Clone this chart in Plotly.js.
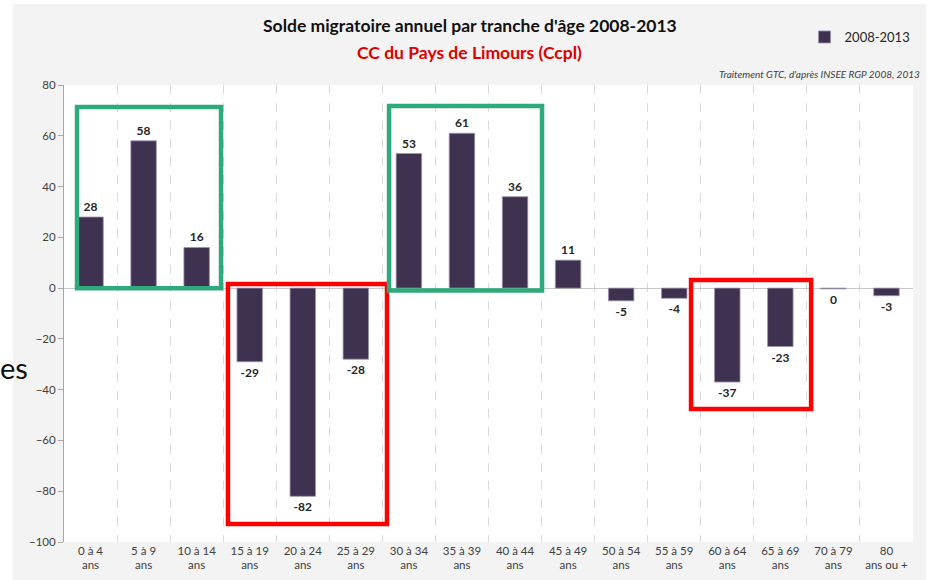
<!DOCTYPE html>
<html><head><meta charset="utf-8">
<script src="https://cdn.plot.ly/plotly-3.0.1.min.js"></script>
<style>
html,body{margin:0;padding:0;background:#fff;width:934px;height:580px;overflow:hidden;position:relative;}
#chart{position:absolute;left:13px;top:4px;width:913px;height:576px;}
#side{position:absolute;left:0px;top:350px;font-family:Lato,"Open Sans",sans-serif;font-size:29px;color:#111;z-index:5;}
</style></head>
<body>
<div id="chart"></div>
<div id="side">es</div>
<script>
const categories = ["0 à 4<br>ans","5 à 9<br>ans","10 à 14<br>ans","15 à 19<br>ans","20 à 24<br>ans","25 à 29<br>ans","30 à 34<br>ans","35 à 39<br>ans","40 à 44<br>ans","45 à 49<br>ans","50 à 54<br>ans","55 à 59<br>ans","60 à 64<br>ans","65 à 69<br>ans","70 à 79<br>ans","80<br>ans ou +"];
const values = [28, 58, 16, -29, -82, -28, 53, 61, 36, 11, -5, -4, -37, -23, -0.3, -3];
const labels = ["28","58","16","-29","-82","-28","53","61","36","11","-5","-4","-37","-23","0","-3"];
const seriesName = "2008-2013";
const yTicks = [80, 60, 40, 20, 0, -20, -40, -60, -80, -100];

const F = 'Lato, "Open Sans", sans-serif';
const trace = {
  type: 'bar', x: categories, y: values, name: seriesName,
  text: labels, textposition: 'outside', cliponaxis: false,
  textfont: {family: F, size: 12, color: '#262626', weight: 'bold'},
  marker: {color: '#3f3150', line: {color: '#9a93ad', width: 0.8}},
  hoverinfo: 'none'
};
function box(x0, x1, y0, y1, c) {
  return {type: 'rect', xref: 'x', yref: 'y', x0: x0, x1: x1, y0: y0, y1: y1,
          line: {color: c, width: 4.5}, fillcolor: 'rgba(0,0,0,0)', layer: 'above'};
}
const green = '#2faa7c', red = '#ff0000';
const layout = {
  width: 913, height: 576,
  margin: {l: 51, r: 13, t: 81, b: 38, autoexpand: false},
  paper_bgcolor: '#f3f3f3', plot_bgcolor: '#ffffff',
  bargap: 0.52,
  showlegend: true,
  legend: {x: 1.003, xanchor: 'right', y: 1.105, yanchor: 'middle', bgcolor: 'rgba(0,0,0,0)',
           font: {family: F, size: 13, color: '#262626'}, itemwidth: 30},
  xaxis: {type: 'category', tickson: 'boundaries', showgrid: true, gridcolor: '#d9d9d9', griddash: 'dash',
          gridwidth: 1, ticks: '', showline: false, zeroline: false,
          tickfont: {family: F, size: 11.5, color: '#404040'}, automargin: false},
  yaxis: {range: [-100, 80], tickvals: yTicks, showgrid: false, zeroline: true, zerolinecolor: '#c8c8c8',
          zerolinewidth: 1, showline: true, linecolor: '#a6a6a6', ticks: 'outside', ticklen: 5,
          tickcolor: '#a6a6a6', tickfont: {family: F, size: 11.5, color: '#404040'}, automargin: false},
  shapes: [
    box(-0.255, 2.459, -0.1, 71.3, green),
    box(2.59, 5.587, -92.9, 1.6, red),
    box(5.625, 8.509, -0.9, 71.7, green),
    box(11.317, 13.58, -47.6, 3.2, red)
  ],
  annotations: [
    {xref: 'paper', yref: 'paper', x: 0.478, y: 1.131, showarrow: false, xanchor: 'center', yanchor: 'middle',
     text: "Solde migratoire annuel par tranche d'âge 2008-2013", font: {family: F, size: 17.5, color: '#111', weight: 'bold'}},
    {xref: 'paper', yref: 'paper', x: 0.478, y: 1.072, showarrow: false, xanchor: 'center', yanchor: 'middle',
     text: "CC du Pays de Limours (Ccpl)", font: {family: F, size: 17.5, color: '#e00000', weight: 'bold'}},
    {xref: 'paper', yref: 'paper', x: 1.0106, y: 1.024, showarrow: false, xanchor: 'right', yanchor: 'middle',
     text: "<i>Traitement GTC, d'après INSEE RGP 2008, 2013</i>", font: {family: F, size: 10, color: '#404040'}}
  ]
};
Plotly.newPlot('chart', [trace], layout, {staticPlot: true, displayModeBar: false});
</script>
</body></html>
